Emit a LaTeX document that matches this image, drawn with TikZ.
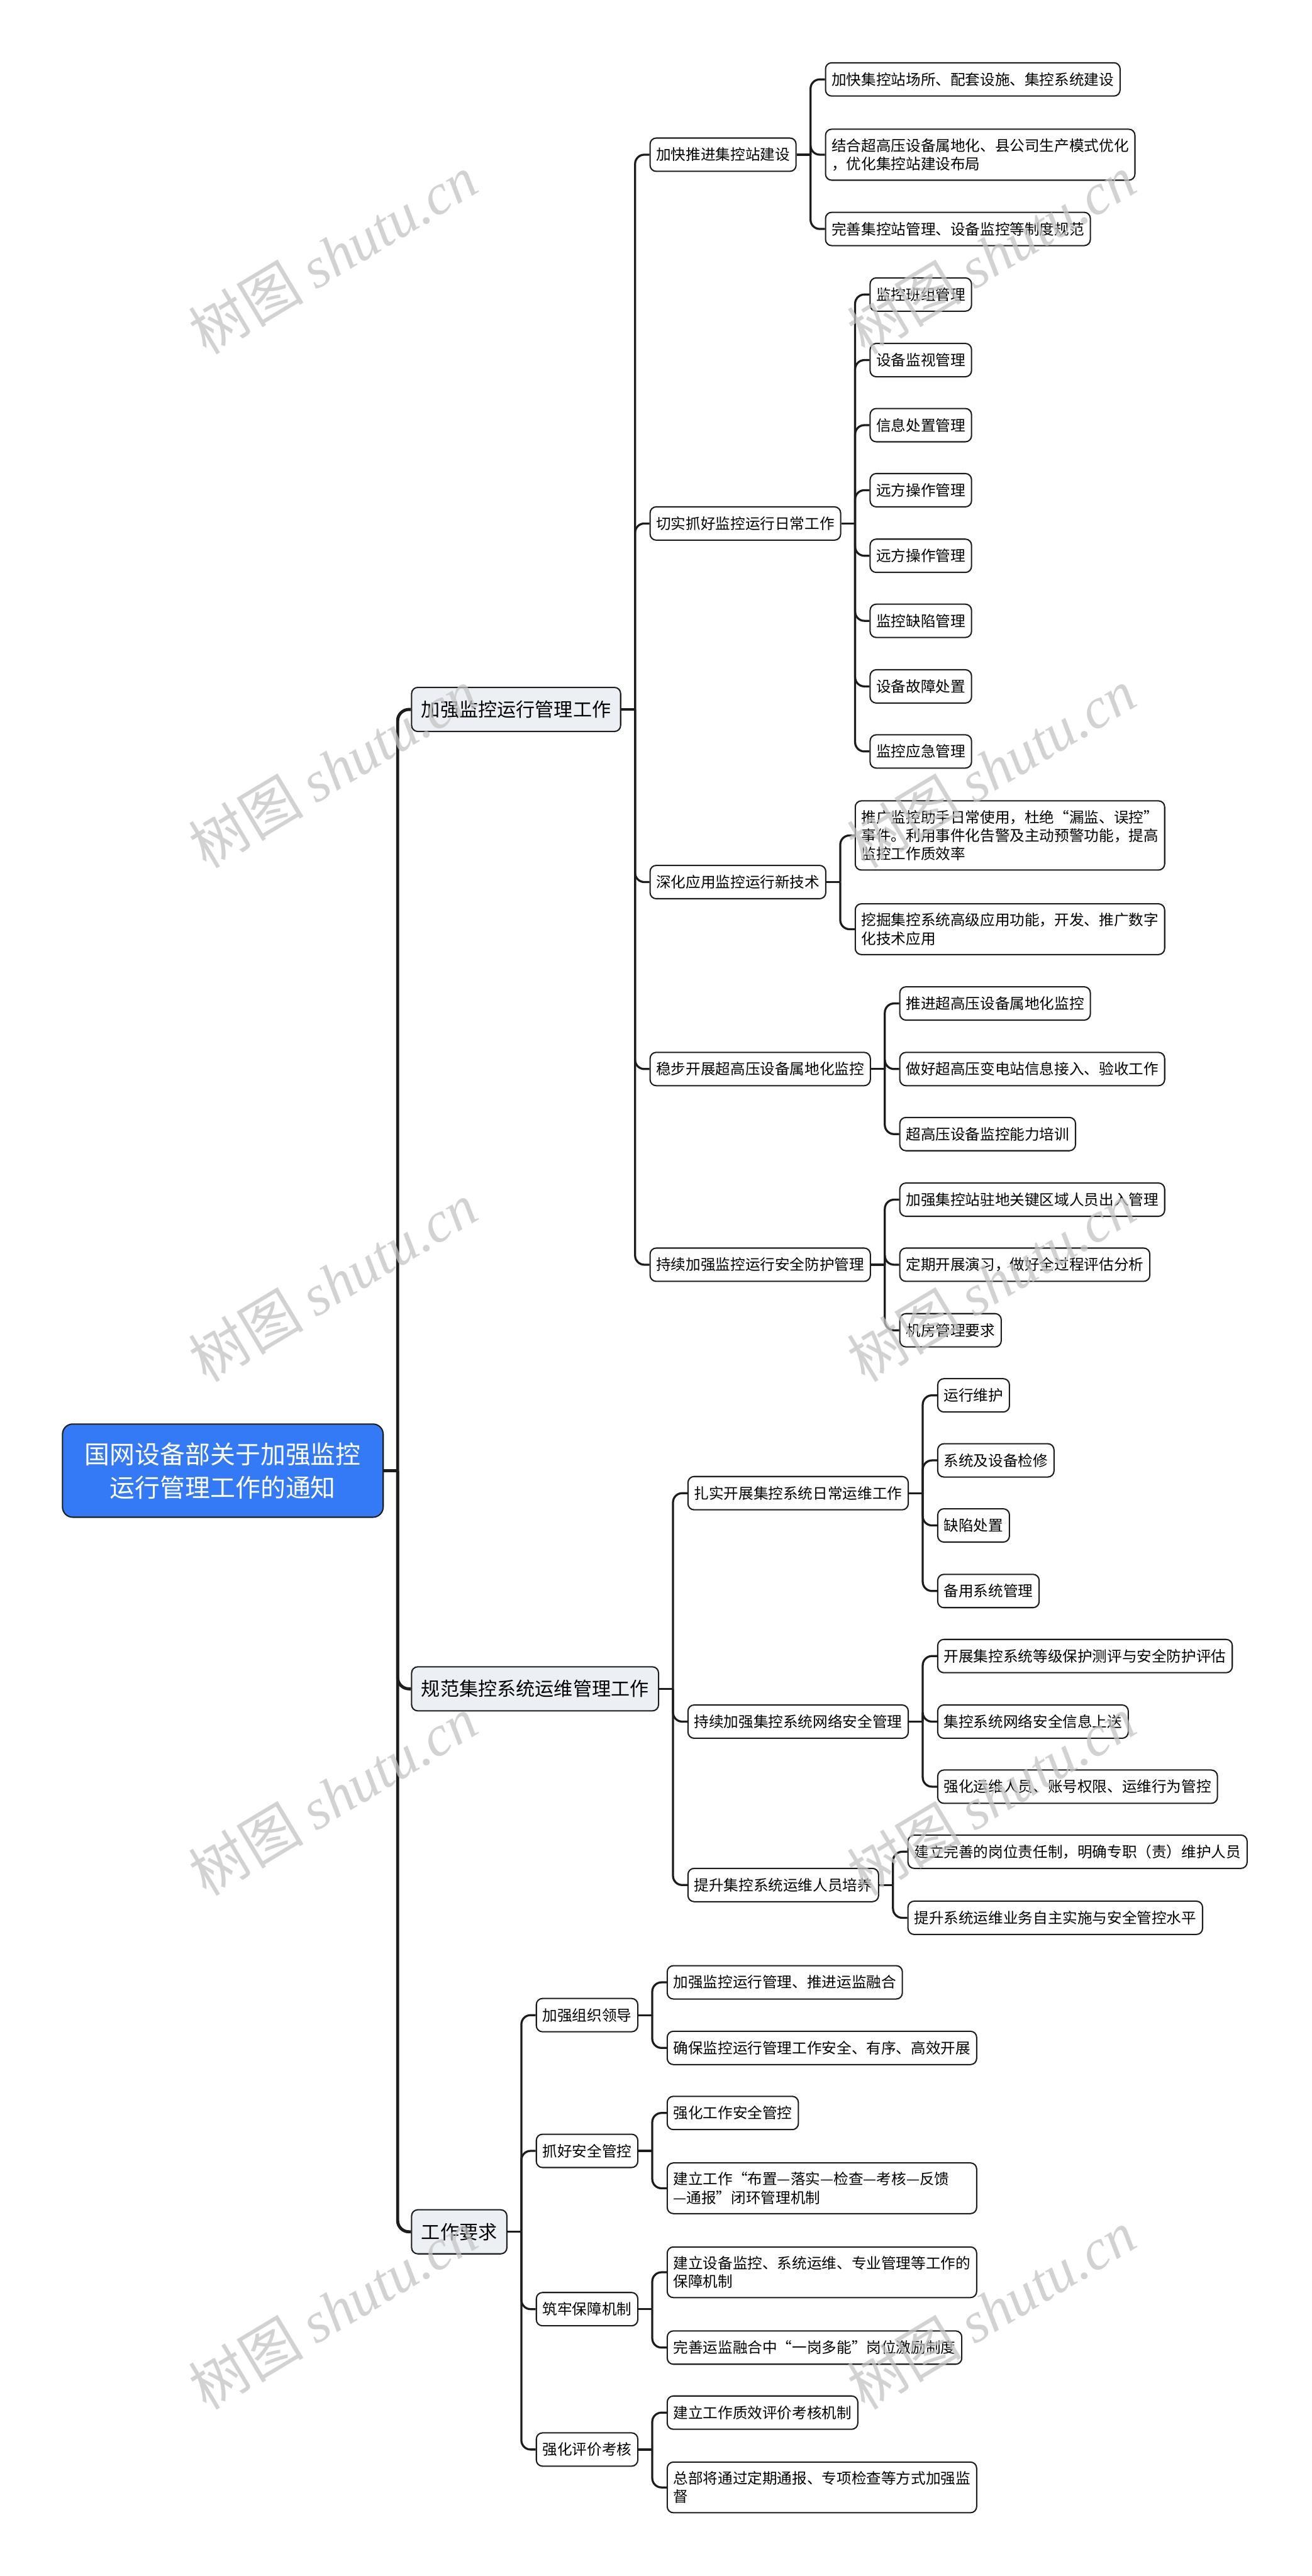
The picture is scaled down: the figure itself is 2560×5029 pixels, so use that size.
\documentclass[tikz,border=0pt]{standalone}
\usepackage{fontspec}
\setmainfont{Noto Sans CJK SC}
\newfontfamily\wmfont{Liberation Serif}
\usetikzlibrary{calc}

\definecolor{rootblue}{RGB}{52,121,246}
\definecolor{topicgray}{RGB}{236,240,245}
\definecolor{edgeblack}{RGB}{28,28,28}
\definecolor{markgray}{RGB}{196,196,196}

\tikzset{
  nodebox/.style={draw=edgeblack, line width=2.5pt, rounded corners=12pt},
  rootnode/.style={nodebox, fill=rootblue, rounded corners=20pt, text=white, align=center,
    minimum width=626pt, minimum height=182pt, font=\fontsize{49}{65}\selectfont},
  topicnode/.style={nodebox, fill=topicgray, anchor=west, minimum height=86pt, inner xsep=19pt,
    font=\fontsize{37}{46}\selectfont},
  leafnode/.style={nodebox, fill=white, anchor=west, minimum height=65pt, inner xsep=12pt,
    inner ysep=18pt, align=left, font=\fontsize{29}{36}\selectfont},
  widenode/.style={leafnode, text width=580pt},
  trunkline/.style={draw=edgeblack, line width=6pt, rounded corners=22pt},
  linkline/.style={draw=edgeblack, line width=4pt, rounded corners=18pt},
  wmark/.style={rotate=31, text=markgray, opacity=0.75, font=\fontsize{112}{112}\selectfont},
}

\begin{document}
\begin{tikzpicture}[x=1pt,y=-1pt]
  \path[use as bounding box, fill=white] (0,0) rectangle (2560,5029);

  \node[rootnode] (root) at (435,2871) {国网设备部关于加强监控\\运行管理工作的通知}; % 中心
  \coordinate (rootj) at ([xshift=27]root.east);

  % 第一层
  \foreach \n/\t/\y in {A/加强监控运行管理工作/1385, B/规范集控系统运维管理工作/3297, C/工作要求/4357}
    \node[topicnode, xshift=26] (\n) at (rootj |- 0,\y) {\t};
  \foreach \n in {A,B,C}
    \coordinate (\n-j) at ([xshift=27]\n.east);

  % 第二层
  \foreach \n/\t/\y in {A-1/加快推进集控站建设/302, A-2/切实抓好监控运行日常工作/1022,
      A-3/深化应用监控运行新技术/1722, A-4/稳步开展超高压设备属地化监控/2087,
      A-5/持续加强监控运行安全防护管理/2469}
    \node[leafnode, xshift=28] (\n) at (A-j |- 0,\y) {\t};
  \foreach \n/\t/\y in {B-1/扎实开展集控系统日常运维工作/2915, B-2/持续加强集控系统网络安全管理/3361,
      B-3/提升集控系统运维人员培养/3680}
    \node[leafnode, xshift=28] (\n) at (B-j |- 0,\y) {\t};
  \foreach \n/\t/\y in {C-1/加强组织领导/3934, C-2/抓好安全管控/4199, C-3/筑牢保障机制/4508, C-4/强化评价考核/4782}
    \node[leafnode, xshift=28] (\n) at (C-j |- 0,\y) {\t};
  \foreach \n in {A-1,A-2,A-3,A-4,A-5,B-1,B-2,B-3,C-1,C-2,C-3,C-4}
    \coordinate (\n-j) at ([xshift=27]\n.east);

  % 第三层
  \node[leafnode, xshift=28] (A-1-1) at (A-1-j |- 0,155) {加快集控站场所、配套设施、集控系统建设};
  \node[widenode, xshift=28] (A-1-2) at (A-1-j |- 0,302) {结合超高压设备属地化、县公司生产模式优化\\，优化集控站建设布局};
  \node[leafnode, xshift=28] (A-1-3) at (A-1-j |- 0,447) {完善集控站管理、设备监控等制度规范};

  \foreach \t/\y [count=\i] in {监控班组管理/575, 设备监视管理/703, 信息处置管理/830, 远方操作管理/957,
      远方操作管理/1085, 监控缺陷管理/1212, 设备故障处置/1340, 监控应急管理/1467}
    \node[leafnode, xshift=28] (A-2-\i) at (A-2-j |- 0,\y) {\t};

  \node[widenode, xshift=28] (A-3-1) at (A-3-j |- 0,1631) {推广监控助手日常使用，杜绝“漏监、误控”\\事件。利用事件化告警及主动预警功能，提高\\监控工作质效率};
  \node[widenode, xshift=28] (A-3-2) at (A-3-j |- 0,1814) {挖掘集控系统高级应用功能，开发、推广数字\\化技术应用};

  \foreach \t/\y [count=\i] in {推进超高压设备属地化监控/1959, 做好超高压变电站信息接入、验收工作/2087, 超高压设备监控能力培训/2214}
    \node[leafnode, xshift=28] (A-4-\i) at (A-4-j |- 0,\y) {\t};
  \foreach \t/\y [count=\i] in {加强集控站驻地关键区域人员出入管理/2342, 定期开展演习，做好全过程评估分析/2469, 机房管理要求/2597}
    \node[leafnode, xshift=28] (A-5-\i) at (A-5-j |- 0,\y) {\t};

  \foreach \t/\y [count=\i] in {运行维护/2724, 系统及设备检修/2851, 缺陷处置/2978, 备用系统管理/3106}
    \node[leafnode, xshift=28] (B-1-\i) at (B-1-j |- 0,\y) {\t};
  \foreach \t/\y [count=\i] in {开展集控系统等级保护测评与安全防护评估/3233, 集控系统网络安全信息上送/3361, 强化运维人员、账号权限、运维行为管控/3488}
    \node[leafnode, xshift=28] (B-2-\i) at (B-2-j |- 0,\y) {\t};
  \foreach \t/\y [count=\i] in {建立完善的岗位责任制，明确专职（责）维护人员/3615, 提升系统运维业务自主实施与安全管控水平/3744}
    \node[leafnode, xshift=28] (B-3-\i) at (B-3-j |- 0,\y) {\t};

  \foreach \t/\y [count=\i] in {加强监控运行管理、推进运监融合/3870, 确保监控运行管理工作安全、有序、高效开展/3998}
    \node[leafnode, xshift=28] (C-1-\i) at (C-1-j |- 0,\y) {\t};
  \node[leafnode, xshift=28] (C-2-1) at (C-2-j |- 0,4125) {强化工作安全管控};
  \node[widenode, xshift=28] (C-2-2) at (C-2-j |- 0,4272) {建立工作“布置—落实—检查—考核—反馈\\—通报”闭环管理机制};
  \node[widenode, xshift=28] (C-3-1) at (C-3-j |- 0,4436) {建立设备监控、系统运维、专业管理等工作的\\保障机制};
  \node[leafnode, xshift=28] (C-3-2) at (C-3-j |- 0,4583) {完善运监融合中“一岗多能”岗位激励制度};
  \node[leafnode, xshift=28] (C-4-1) at (C-4-j |- 0,4710) {建立工作质效评价考核机制};
  \node[widenode, xshift=28] (C-4-2) at (C-4-j |- 0,4856) {总部将通过定期通报、专项检查等方式加强监\\督};

  % 枝
  \draw[trunkline] (root.east) -- (rootj);
  \foreach \n in {A,B,C}
    \draw[trunkline] (rootj) |- (\n.west);
  \foreach \p/\k in {A/5, B/3, C/4, A-1/3, A-2/8, A-3/2, A-4/3, A-5/3, B-1/4, B-2/3, B-3/2,
      C-1/2, C-2/2, C-3/2, C-4/2} {
    \draw[linkline] (\p.east) -- (\p-j);
    \foreach \i in {1,...,\k}
      \draw[linkline] (\p-j) |- (\p-\i.west);
  }

  % 透かし
  \foreach \x in {650,1935}
    \foreach \y in {497,1500,2503,3506,4509}
      \node[wmark] (wm-\x-\y) at (\x,\y) {树图 {\wmfont\itshape shutu.cn}};
\end{tikzpicture}
\end{document}
